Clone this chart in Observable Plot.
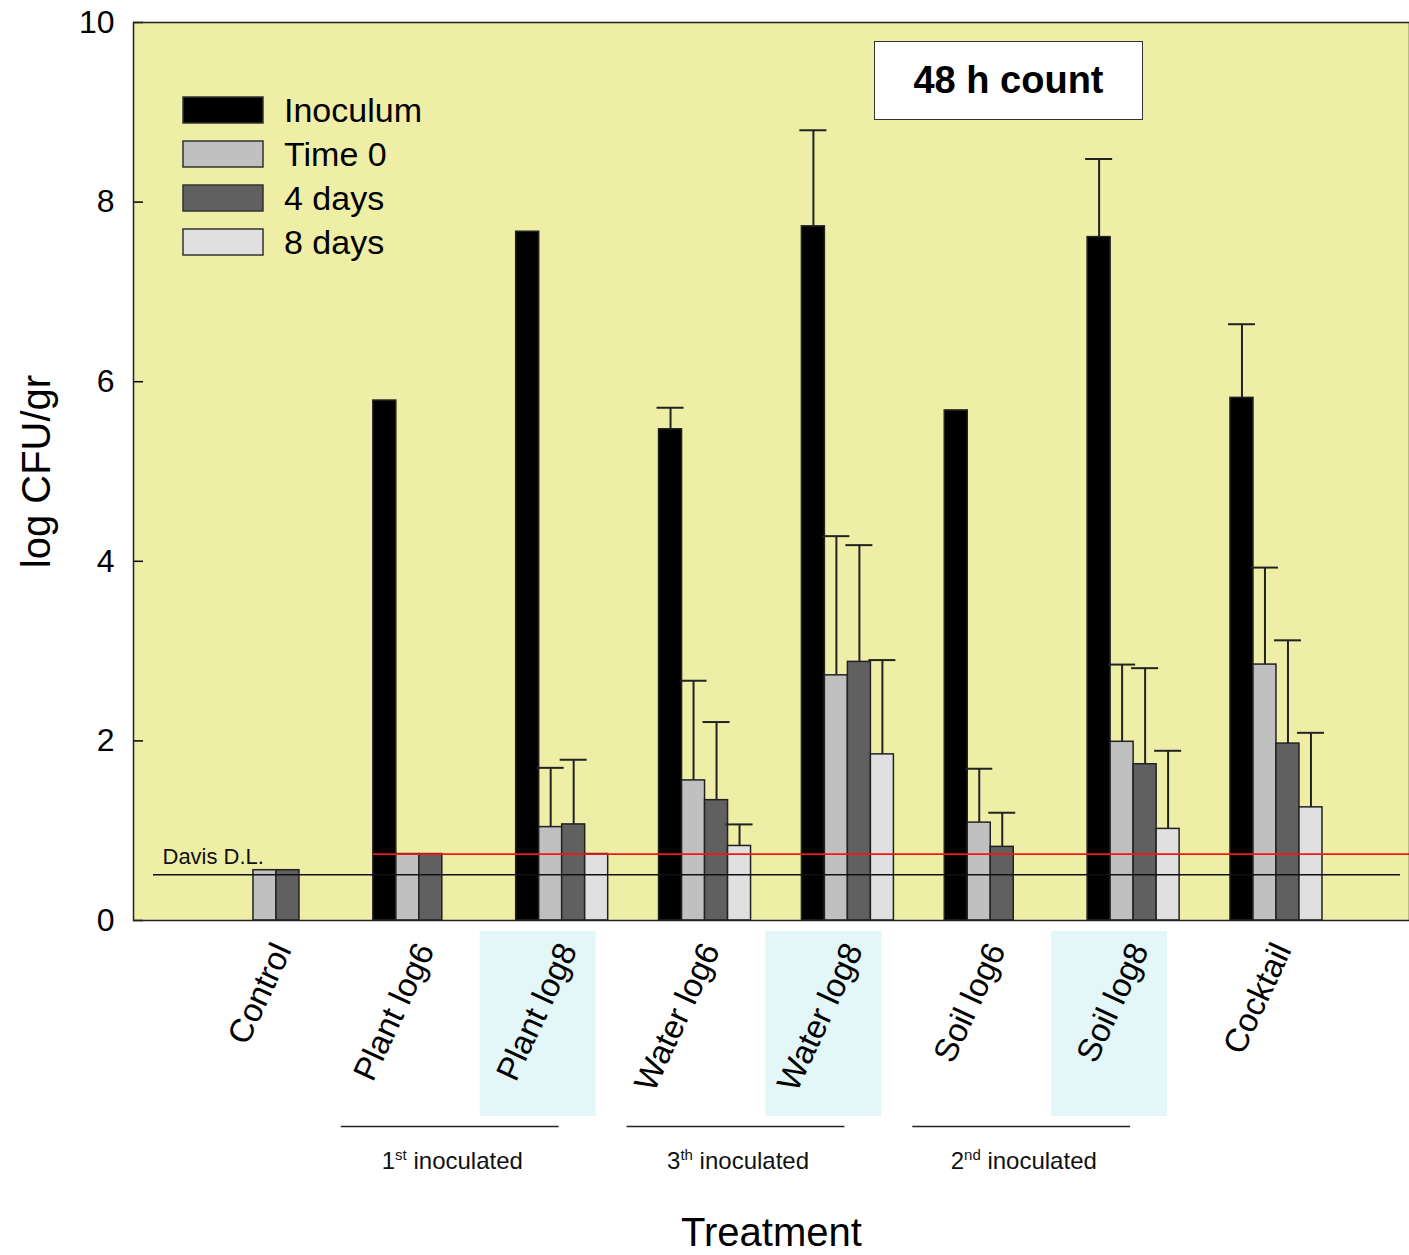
<!DOCTYPE html>
<html>
<head>
<meta charset="utf-8">
<script src="https://cdn.jsdelivr.net/npm/d3@7"></script>
<script src="https://cdn.jsdelivr.net/npm/@observablehq/plot@0.6"></script>
<style>
  body { margin: 0; background: #fff; font-family: "Liberation Sans", Arial, sans-serif; }
  #wrap { position: relative; width: 1409px; height: 1255px; }
  #legend { position: absolute; left: 183px; top: 88px; width: 320px; }
  #legend .lg-swatch { height: 44px; padding-bottom: 0 !important; margin: 0; }
  #legend .lg-swatch svg { overflow: visible; margin-right: 21px !important; }
  #legend .lg-swatch rect { stroke: #333; stroke-width: 1.5px; }
  #badge { position: absolute; left: 874px; top: 41px; width: 267px; height: 77px;
    border: 1.5px solid #333; background: #fff; color: #000;
    font: bold 38px "Liberation Sans", Arial, sans-serif;
    display: flex; align-items: center; justify-content: center; }
</style>
</head>
<body>
<div id="wrap"></div>
<script>
// ---- data ----
const treatments = ["Control", "Plant log6", "Plant log8", "Water log6", "Water log8", "Soil log6", "Soil log8", "Cocktail"];
const series = ["Inoculum", "Time 0", "4 days", "8 days"];
const seriesColors = ["#000000", "#c0c0c0", "#606060", "#e0e0e0"];

const inoculum    = [null, 5.79, 7.67, 5.47, 7.73, 5.68, 7.61, 5.82];
const inoculumErr = [0,    0,    0,    0.24, 1.07, 0,    0.87, 0.82];
const time0       = [0.56, 0.74, 1.04, 1.56, 2.73, 1.09, 1.99, 2.85];
const time0Err    = [0,    0,    0.66, 1.11, 1.55, 0.60, 0.86, 1.08];
const days4       = [0.56, 0.74, 1.07, 1.34, 2.88, 0.82, 1.74, 1.97];
const days4Err    = [0,    0,    0.72, 0.87, 1.30, 0.38, 1.07, 1.15];
const days8       = [null, null, 0.74, 0.83, 1.85, null, 1.02, 1.26];
const days8Err    = [0,    0,    0,    0.24, 1.05, 0,    0.87, 0.83];

const davisDL = 0.51;
const davisLabel = "Davis D.L.";
const detectionLimit = 0.74;
const detectionFrom = "Plant log6";
const highlighted = ["Plant log8", "Water log8", "Soil log8"];
const inoculationGroups = [
  {from: "Plant log6", to: "Plant log8", n: "1", sup: "st"},
  {from: "Water log6", to: "Water log8", n: "3", sup: "th"},
  {from: "Soil log6",  to: "Soil log8",  n: "2", sup: "nd"}
];
const yTicks = [0, 2, 4, 6, 8, 10];
const badgeText = "48 h count";

// ---- build table ----
const values = [inoculum, time0, days4, days8];
const errors = [inoculumErr, time0Err, days4Err, days8Err];
const rows = [];
series.forEach((s, k) => treatments.forEach((t, i) => {
  rows.push({treatment: t, series: s, value: values[k][i], err: errors[k][i]});
}));

// ---- layout ----
const W = 1409, H = 1255, mL = 133, mR = 0, mT = 22, mB = 335;
const xOpts = {domain: treatments, paddingInner: 0.356, paddingOuter: 0.644, align: 0.527, round: false};
const band = d3.scaleBand().domain(treatments).range([mL, W - mR])
  .paddingInner(xOpts.paddingInner).paddingOuter(xOpts.paddingOuter).align(xOpts.align);
const BAR = band.bandwidth() / series.length;
const lastEnd = band(treatments[treatments.length - 1]) + band.bandwidth();
const font = "'Liberation Sans', Arial, Helvetica, sans-serif";

const marks = [
  Plot.frame({fill: "#eeeea6"}),
  Plot.barY(highlighted, {x: d => d, y1: 0, y2: 0, fill: "#e3f6f8", insetLeft: -36, insetRight: 12, insetTop: 11, insetBottom: -196}),
  ...series.map((s, k) => Plot.barY(rows.filter(d => d.series === s && d.value != null), {
    x: "treatment", y: "value", fill: seriesColors[k], stroke: "#222", strokeWidth: 1.5,
    insetLeft: k * BAR, insetRight: (series.length - 1 - k) * BAR
  })),
  ...series.map((s, k) => Plot.ruleX(rows.filter(d => d.series === s && d.value != null && d.err > 0), {
    x: "treatment", y1: "value", y2: d => d.value + d.err, dx: (k - 1.5) * BAR, stroke: "#222", strokeWidth: 2
  })),
  ...series.map((s, k) => Plot.tickY(rows.filter(d => d.series === s && d.value != null && d.err > 0), {
    x: "treatment", y: d => d.value + d.err, stroke: "#222", strokeWidth: 2,
    insetLeft: k * BAR - 2, insetRight: (series.length - 1 - k) * BAR - 2
  })),
  Plot.ruleY([davisDL], {stroke: "#111", strokeWidth: 1.5, insetLeft: 20, insetRight: 9}),
  Plot.ruleY([{y: detectionLimit, from: detectionFrom, to: treatments[treatments.length - 1]}], {
    y: "y", x1: "from", x2: "to", stroke: "#f01818", strokeWidth: 1.8, insetRight: -(W - mR - lastEnd)
  }),
  Plot.text([{y: davisDL, label: davisLabel}], {y: "y", text: "label", frameAnchor: "left", textAnchor: "start",
    dx: 29, dy: -18, fontSize: 22, fill: "#111"}),
  Plot.ruleY(inoculationGroups, {x1: "from", x2: "to", y: 0, dy: 206, insetLeft: -32, insetRight: 49, stroke: "#222", strokeWidth: 1.5}),
  Plot.text(inoculationGroups, {x: "from", y: 0, text: d => `${d.n}${d.sup} inoculated`, dx: 33, dy: 241, fontSize: 24, fill: "#111"}),
  Plot.axisX({tickRotate: -65, tickSize: 0, tickPadding: 25, dx: 6, fontSize: 33, label: null}),
  Plot.axisY({ticks: yTicks, tickSize: -10, tickPadding: 29, fontSize: 32, label: null, tickFormat: d => String(d), strokeWidth: 1.5}),
  Plot.text(["Treatment"], {frameAnchor: "bottom", dy: 325, fontSize: 40}),
  Plot.text(["log CFU/gr"], {frameAnchor: "left", textAnchor: "middle", rotate: -90, dx: -96, fontSize: 40}),
  Plot.frame({stroke: "#222", strokeWidth: 1.5})
];

const chart = Plot.plot({
  width: W, height: H,
  marginLeft: mL, marginRight: mR, marginTop: mT, marginBottom: mB,
  style: {fontFamily: font, background: "white", color: "#000"},
  x: xOpts,
  y: {domain: [0, 10]},
  marks
});

// superscripts in the inoculation labels
d3.select(chart).selectAll("text").each(function () {
  const el = this;
  const g = inoculationGroups.find(g => el.textContent === `${g.n}${g.sup} inoculated`);
  if (!g) return;
  const t = d3.select(el);
  t.text(null);
  t.append("tspan").text(g.n);
  t.append("tspan").attr("dy", -9).attr("font-size", 15).text(g.sup);
  t.append("tspan").attr("dy", 9).text(" inoculated");
});

const wrap = document.getElementById("wrap");
wrap.appendChild(chart);

const legend = Plot.legend({
  color: {type: "ordinal", domain: series, range: seriesColors},
  swatchWidth: 80, swatchHeight: 26, columns: 1, className: "lg",
  style: {fontSize: "34px", fontFamily: font, color: "#000"}
});
const lg = document.createElement("div");
lg.id = "legend";
lg.appendChild(legend);
wrap.appendChild(lg);

const badge = document.createElement("div");
badge.id = "badge";
badge.textContent = badgeText;
wrap.appendChild(badge);
</script>
</body>
</html>
